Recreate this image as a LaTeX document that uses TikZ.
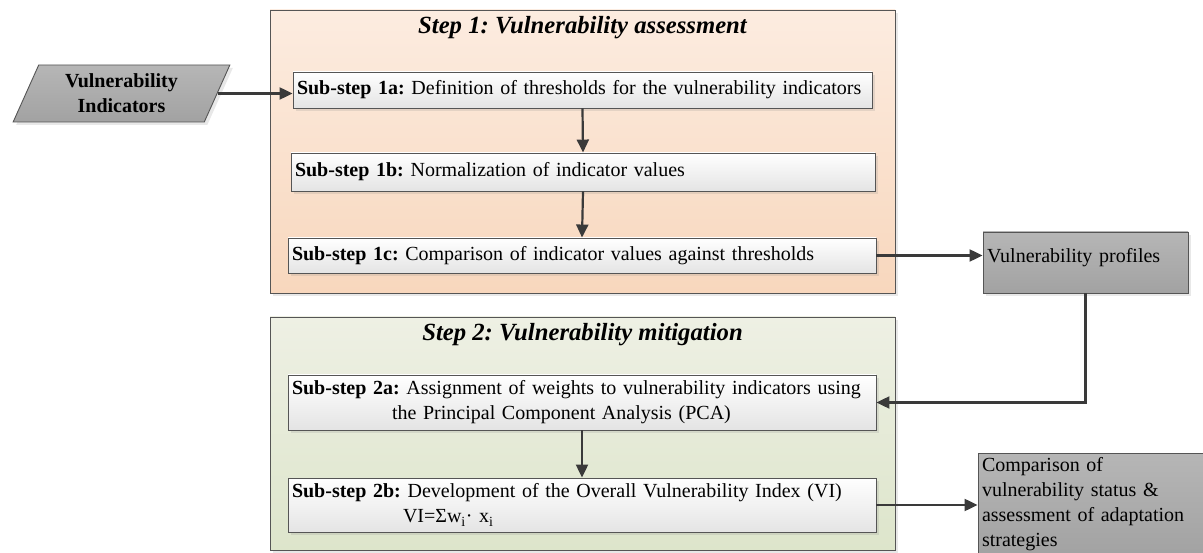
\documentclass[tikz,border=0pt]{standalone}
\usepackage{fontspec}
\setmainfont{Liberation Serif}
\usetikzlibrary{arrows.meta,shapes.geometric,shadows}
\definecolor{arrowc}{HTML}{3A3A3A}
\definecolor{borderc}{HTML}{555555}
\definecolor{peachtop}{HTML}{FCECE0}
\definecolor{peachbot}{HTML}{F8D7BD}
\definecolor{greentop}{HTML}{EEF0E4}
\definecolor{greenbot}{HTML}{DDE5CB}
\definecolor{graytop}{HTML}{B6B6B6}
\definecolor{graybot}{HTML}{A2A2A2}
\definecolor{subbot}{HTML}{E4E4E4}
\begin{document}
\frenchspacing
\begin{tikzpicture}[x=1pt,y=1pt,
  shad/.style={drop shadow={shadow xshift=3pt,shadow yshift=-3pt,opacity=0.18}},
  stepbox/.style={draw=borderc,line width=0.9pt,shad},
  titletext/.style={font=\fontsize{24.7}{30}\selectfont\bfseries\itshape,inner sep=0pt},
  subbox/.style={draw=borderc,line width=0.9pt,top color=white,bottom color=subbot,shad,
    font=\fontsize{20}{25}\selectfont,align=left,inner xsep=4pt,inner ysep=0pt},
  graybox/.style={draw=borderc,line width=0.9pt,top color=graytop,bottom color=graybot,shad,
    font=\fontsize{20}{25}\selectfont,align=left,inner xsep=4pt,inner ysep=0pt},
  conn/.style={draw=arrowc,line width=2.2pt,-{Triangle[length=13pt,width=12pt]}}
]
\useasboundingbox (0,0) rectangle (1203,-553);

% Step containers
\node[stepbox,top color=peachtop,bottom color=peachbot,minimum width=625,minimum height=283] (step1) at (582.5,-151.5) {};
\node[stepbox,top color=greentop,bottom color=greenbot,minimum width=625,minimum height=233] (step2) at (582.5,-433.5) {};
\node[titletext] (t1) at (582.5,-28) {Step 1: Vulnerability assessment};
\node[titletext] (t2) at (582.5,-335) {Step 2: Vulnerability mitigation};

% Sub-steps
\node[subbox,text width=571,minimum height=36] (s1a) at (582.5,-90)
  {\textbf{Sub-step 1a:} Definition of thresholds for the vulnerability indicators};
\node[subbox,text width=576,minimum height=38] (s1b) at (583,-172)
  {\textbf{Sub-step 1b:} Normalization of indicator values};
\node[subbox,text width=580,minimum height=35] (s1c) at (582,-255.5)
  {\textbf{Sub-step 1c:} Comparison of indicator values against thresholds};
\node[subbox,text width=580,minimum height=55] (s2a) at (582,-402.5)
  {\textbf{Sub-step 2a:} Assignment of weights to vulnerability indicators using\\\hspace*{100pt}the Principal Component Analysis (PCA)};
\node[subbox,text width=580,minimum height=54] (s2b) at (582,-505)
  {\textbf{Sub-step 2b:} Development of the Overall Vulnerability Index (VI)\\\hspace*{111pt}VI=Σw\textsubscript{i}· x\textsubscript{i}};

% Inputs / outputs
\node[trapezium,trapezium left angle=66,trapezium right angle=114,trapezium stretches=true,
  draw=borderc,line width=0.9pt,top color=graytop,bottom color=graybot,shad,minimum width=217,minimum height=57,
  font=\fontsize{20}{25}\selectfont\bfseries,align=center,inner sep=0pt] (vi) at (121.5,-93.5)
  {Vulnerability\\Indicators};
\node[graybox,text width=197,minimum height=61,text height=14pt,text depth=14pt] (prof) at (1085.5,-262.5) {Vulnerability profiles};
\node[graybox,text width=232,minimum height=103] (comp) at (1098,-504.5)
  {Comparison of\\vulnerability status \&\\assessment of adaptation\\strategies};

% Connectors
\draw[conn] (vi.east) -- (vi.east -| s1a.west);
\draw[conn] (s1a.south) -- (s1b.north);
\draw[conn] (s1b.south) -- (s1c.north);
\draw[conn] (s1c.east) -- (s1c.east -| prof.west);
\draw[conn] (prof.south) |- (s2a.east);
\draw[conn] (s2a.south) -- (s2b.north);
\draw[conn] (s2b.east) -- (s2b.east -| comp.west);
\end{tikzpicture}
\end{document}
